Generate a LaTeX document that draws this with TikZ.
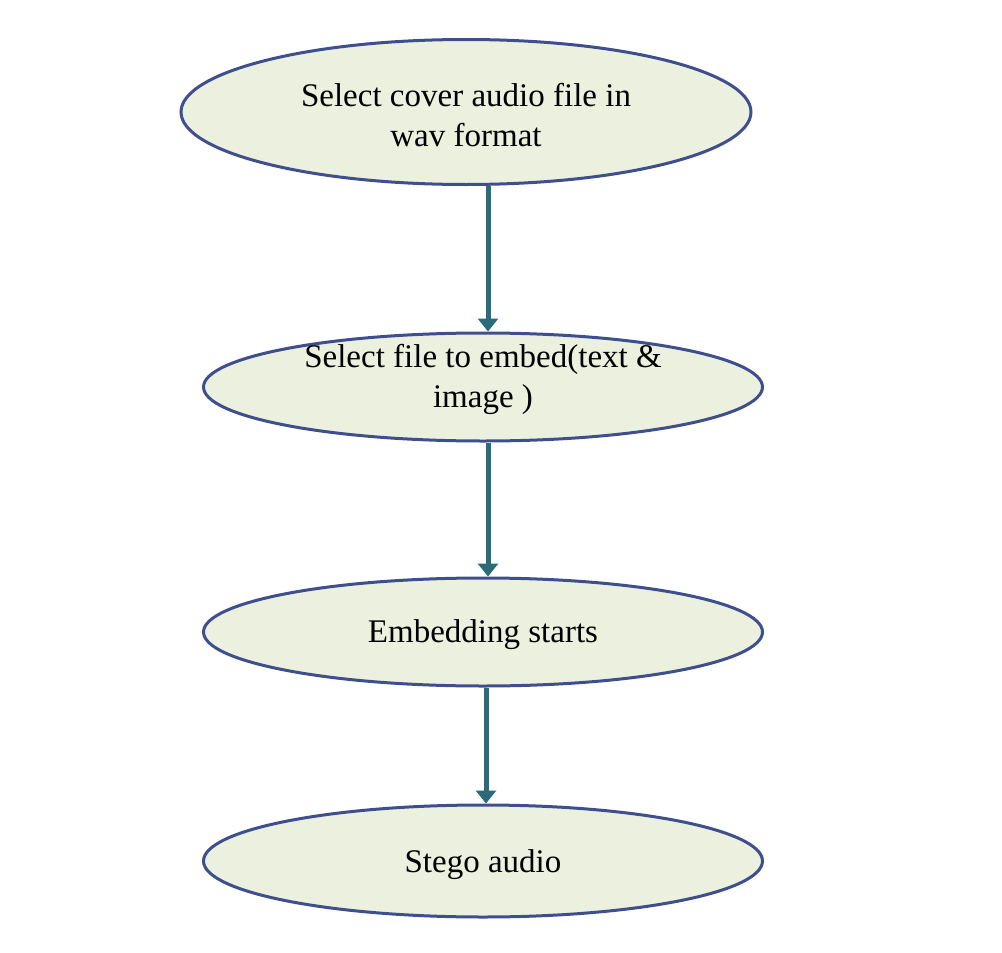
\documentclass[tikz,border=0pt]{standalone}
\usepackage{fontspec}
\setmainfont{Liberation Serif}
\usetikzlibrary{shapes.geometric,arrows.meta}
\definecolor{ellfill}{HTML}{EBF1DE}
\definecolor{elldraw}{HTML}{3F4E8C}
\definecolor{arrcol}{HTML}{2B6A79}
\tikzset{
  ell/.style={ellipse, draw=elldraw, line width=3pt, fill=ellfill, inner sep=0pt},
  lbl/.style={inner sep=0pt, align=center, font=\fontsize{33}{40}\selectfont},
  flow/.style={draw=arrcol, line width=5pt, -{Triangle[width=20pt,length=13pt]}}
}
\begin{document}
\begin{tikzpicture}[x=1pt,y=-1pt]
\useasboundingbox (0,0) rectangle (1002,953);
\node[ell, minimum width=570pt, minimum height=145pt] (n1) at (466,112) {};
\node[ell, minimum width=559pt, minimum height=108pt] (n2) at (483,387) {};
\node[ell, minimum width=559pt, minimum height=108pt] (n3) at (483,632) {};
\node[ell, minimum width=559pt, minimum height=112pt] (n4) at (483,861) {};
\node[lbl] (t1) at (466,115) {Select cover audio file in\\wav format};
\node[lbl] (t2) at (483,379) {Select file to embed(text \&\\image )};
\node[lbl] (t3) at (483,635) {Embedding starts};
\node[lbl] (t4) at (483,865) {Stego audio};
\coordinate (a1) at (488,0);
\coordinate (a2) at (486,0);
\draw[flow] (a1 |- n1.south) -- (a1 |- n2.north);
\draw[flow] (a1 |- n2.south) -- (a1 |- n3.north);
\draw[flow] (a2 |- n3.south) -- (a2 |- n4.north);
\end{tikzpicture}
\end{document}
